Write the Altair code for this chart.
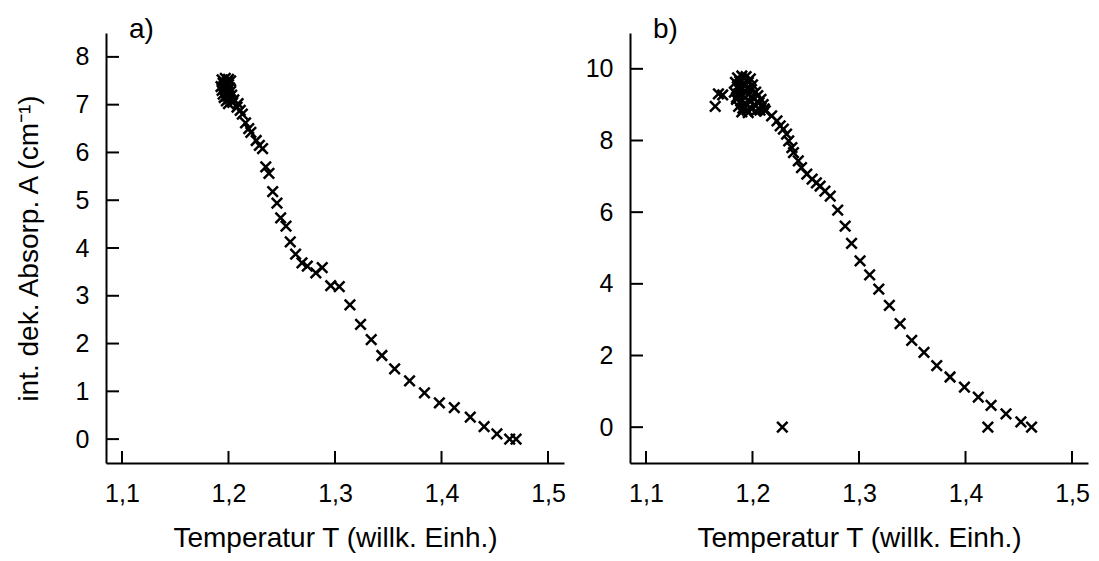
import altair as alt
import pandas as pd

# ---------------- data ----------------
T_a = [1.194, 1.197, 1.200, 1.195, 1.199, 1.202, 1.193, 1.196, 1.200, 1.194, 1.197, 1.201,
       1.195, 1.198, 1.202, 1.196, 1.199, 1.203, 1.198, 1.201, 1.205, 1.200, 1.204,
       1.208, 1.209, 1.211, 1.213, 1.216, 1.219, 1.221, 1.226, 1.229, 1.232, 1.235, 1.238,
       1.2415, 1.2455, 1.249, 1.254, 1.258, 1.263, 1.269, 1.274, 1.282, 1.288, 1.296, 1.304,
       1.314, 1.324, 1.334, 1.344, 1.356, 1.370, 1.384, 1.398, 1.412, 1.427, 1.440, 1.452,
       1.464, 1.470]
A_a = [7.52, 7.55, 7.53, 7.45, 7.47, 7.50, 7.38, 7.40, 7.42, 7.30, 7.33, 7.35,
       7.22, 7.25, 7.28, 7.15, 7.18, 7.20, 7.08, 7.12, 7.10, 7.02, 7.05,
       6.95, 7.02, 6.88, 6.80, 6.62, 6.50, 6.42, 6.25, 6.15, 6.08, 5.70, 5.56,
       5.18, 4.94, 4.63, 4.46, 4.13, 3.87, 3.69, 3.62, 3.48, 3.59, 3.21, 3.19,
       2.81, 2.40, 2.08, 1.75, 1.47, 1.22, 0.97, 0.76, 0.66, 0.46, 0.26, 0.11,
       0.00, 0.00]

T_b = [1.186, 1.190, 1.194, 1.198, 1.184, 1.188, 1.192, 1.196, 1.200, 1.186, 1.190, 1.195,
       1.199, 1.203, 1.183, 1.187, 1.191, 1.196, 1.200, 1.205, 1.208, 1.185, 1.189, 1.193,
       1.198, 1.202, 1.206, 1.210, 1.187, 1.191, 1.195, 1.199, 1.203, 1.207, 1.211, 1.190,
       1.196, 1.185,
       1.165, 1.168, 1.172,
       1.212, 1.218, 1.223, 1.226, 1.229, 1.232, 1.234, 1.237, 1.2385, 1.243, 1.246, 1.251,
       1.256, 1.260, 1.2635, 1.268, 1.273, 1.280, 1.287, 1.293, 1.301, 1.310, 1.3186, 1.3285,
       1.3386, 1.3495, 1.361, 1.373, 1.3855, 1.399, 1.412, 1.424, 1.438, 1.452, 1.462,
       1.421, 1.228]
A_b = [9.75, 9.80, 9.78, 9.72, 9.62, 9.65, 9.60, 9.62, 9.55, 9.50, 9.48, 9.45,
       9.42, 9.35, 9.35, 9.30, 9.25, 9.28, 9.20, 9.25, 9.15, 9.15, 9.10, 9.05,
       9.08, 9.00, 9.05, 9.00, 8.95, 8.90, 8.85, 8.88, 8.82, 8.85, 8.88, 8.80,
       8.78, 9.20,
       8.95, 9.30, 9.27,
       8.83, 8.69, 8.55, 8.41, 8.32, 8.18, 7.99, 7.80, 7.66, 7.43, 7.24, 7.06,
       6.92, 6.82, 6.73, 6.59, 6.45, 6.06, 5.61, 5.13, 4.64, 4.25, 3.85, 3.40,
       2.89, 2.42, 2.09, 1.72, 1.40, 1.12, 0.84, 0.61, 0.37, 0.15, 0.00,
       0.00, 0.00]

x_ticks = [1.1, 1.2, 1.3, 1.4, 1.5]
y_ticks_a = [0, 1, 2, 3, 4, 5, 6, 7, 8]
y_ticks_b = [0, 2, 4, 6, 8, 10]

x_title = "Temperatur T (willk. Einh.)"
y_title = "int. dek. Absorp. A (cm\u207b\u00b9)"

# ---------------- style ----------------
FONT = "Liberation Sans"
W, H = 458, 430
XSHAPE = "M-1,-1L1,1M-1,1L1,-1"
X_DOMAIN = [1.085, 1.515]


def panel(T, A, yticks, ydom, label, ytitle):
    df = pd.DataFrame({"T": T, "A": A})
    xscale = alt.Scale(domain=X_DOMAIN, nice=False, zero=False)
    yscale = alt.Scale(domain=ydom, nice=False, zero=False)
    common = dict(tickSize=0, grid=False, domainColor="black", domainWidth=2,
                  labelColor="black", labelFont=FONT, labelFontSize=25,
                  titleColor="black", titleFont=FONT, titleFontSize=28,
                  titleFontWeight="normal", labelFlush=False, labelOverlap=False)
    xaxis = alt.Axis(values=x_ticks, title=x_title, labelPadding=18, titlePadding=18,
                     labelExpr="replace(format(datum.value, '.1f'), '.', ',')", **common)
    yargs = dict(values=yticks, labelPadding=17, format="d", **common)
    if ytitle:
        yaxis = alt.Axis(title=ytitle, titleX=-77, titleY=H / 2, titleAngle=-90,
                         titleBaseline="middle", titleAlign="center", **yargs)
    else:
        yaxis = alt.Axis(title=None, **yargs)

    pts = alt.Chart(df).mark_point(
        shape=XSHAPE, size=110, strokeWidth=2.5, color="black", filled=False, opacity=1
    ).encode(
        x=alt.X("T:Q", scale=xscale, axis=xaxis),
        y=alt.Y("A:Q", scale=yscale, axis=yaxis),
    )
    yt = alt.Chart(pd.DataFrame({"A": yticks})).mark_rule(color="black", strokeWidth=2).encode(
        y=alt.Y("A:Q", scale=yscale, axis=yaxis), x=alt.value(0), x2=alt.value(13)
    )
    xt = alt.Chart(pd.DataFrame({"T": x_ticks})).mark_rule(color="black", strokeWidth=2).encode(
        x=alt.X("T:Q", scale=xscale, axis=xaxis), y=alt.value(H - 12), y2=alt.value(H)
    )
    txt = alt.Chart(pd.DataFrame({"t": [label]})).mark_text(
        font=FONT, fontSize=28, align="left", baseline="alphabetic", color="black"
    ).encode(text="t:N", x=alt.value(23), y=alt.value(4.5))
    return alt.layer(pts, yt, xt, txt).properties(width=W, height=H)


pa = panel(T_a, A_a, y_ticks_a, [-0.5, 8.5], "a)", y_title)
pb = panel(T_b, A_b, y_ticks_b, [-1, 11], "b)", None)

chart = alt.hconcat(pa, pb, spacing=66, bounds="flush").configure_view(
    stroke=None
).properties(
    padding={"left": 14, "top": 15, "right": 5, "bottom": 2},
    background="white",
)

chart.save("out.html", embed_options={"renderer": "svg", "actions": False})
